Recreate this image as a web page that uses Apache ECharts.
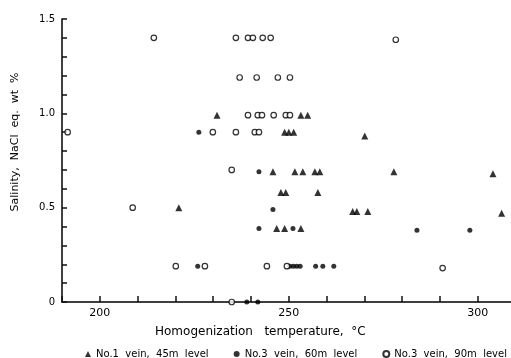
<!DOCTYPE html>
<html>
<head>
<meta charset="utf-8">
<script src="https://cdn.jsdelivr.net/npm/echarts@6/dist/echarts.min.js"></script>
<style>
  html, body { margin: 0; padding: 0; background: #fff; }
  #chart { width: 511px; height: 358px; }
</style>
</head>
<body>
<div id="chart"></div>
<script>
// Fluid inclusion data: homogenization temperature (°C) vs salinity (NaCl eq. wt %)
const vein1_45m_temp = [231.0, 253.2, 255.0, 248.9, 250.0, 251.3, 270.1,
  245.8, 251.6, 253.7, 256.9, 258.2, 277.8, 304.0,
  247.9, 249.2, 257.7,
  220.9, 266.9, 268.0, 270.9, 306.3,
  246.8, 248.9, 253.2];
const vein1_45m_salinity = [0.99, 0.99, 0.99, 0.9, 0.9, 0.9, 0.88,
  0.69, 0.69, 0.69, 0.69, 0.69, 0.69, 0.68,
  0.58, 0.58, 0.58,
  0.5, 0.48, 0.48, 0.48, 0.47,
  0.39, 0.39, 0.39];

const vein3_60m_temp = [226.2, 242.1, 245.8, 242.1, 251.1, 283.9, 297.9,
  225.9, 250.3, 251.2, 252.1, 253.0, 257.1, 259.0, 261.9,
  238.9, 241.8];
const vein3_60m_salinity = [0.9, 0.69, 0.49, 0.39, 0.39, 0.38, 0.38,
  0.19, 0.19, 0.19, 0.19, 0.19, 0.19, 0.19, 0.19,
  0, 0];

const vein3_90m_temp = [214.3, 236.0, 239.2, 240.5, 243.1, 245.2, 278.3,
  237.0, 241.5, 247.1, 250.3,
  239.2, 241.8, 242.9, 246.0, 249.2, 250.3,
  191.5, 229.9, 236.0, 241.0, 242.1,
  234.9, 208.7,
  220.1, 227.8, 244.2, 249.5, 290.7,
  234.9];
const vein3_90m_salinity = [1.4, 1.4, 1.4, 1.4, 1.4, 1.4, 1.39,
  1.19, 1.19, 1.19, 1.19,
  0.99, 0.99, 0.99, 0.99, 0.99, 0.99,
  0.9, 0.9, 0.9, 0.9, 0.9,
  0.7, 0.5,
  0.19, 0.19, 0.19, 0.19, 0.18,
  0];

// Labelled tick values (ticks themselves fall every 10 °C and every 0.1 %)
const xLabels = [200, 250, 300];
const yLabels = [0, 0.5, 1.0, 1.5];

const seriesNames = ['No.1 vein, 45m level', 'No.3 vein, 60m level', 'No.3 vein, 90m level'];

const zip = (xs, ys) => xs.map((x, i) => [x, ys[i]]);
const near = (v, list) => list.some(t => Math.abs(v - t) < 1e-6);
const ink = '#000';
const font = 'DejaVu Sans';

const chart = echarts.init(document.getElementById('chart'), null, { renderer: 'canvas' });
chart.setOption({
  animation: false,
  backgroundColor: '#fff',
  // the temperature axis runs on past the right edge of the page
  grid: { left: 62, top: 19, width: 453.6, height: 283, outerBoundsMode: 'none', containLabel: false },
  xAxis: {
    type: 'value',
    min: 190, max: 310, interval: 10,
    axisLine: { show: true, lineStyle: { color: ink, width: 1.5 } },
    axisTick: { show: true, inside: true, length: 6, lineStyle: { color: '#111', width: 1.5 } },
    axisLabel: {
      color: ink, fontFamily: font, fontSize: 11, margin: 6,
      formatter: v => (near(v, xLabels) ? String(Math.round(v)) : '')
    },
    splitLine: { show: false }
  },
  yAxis: {
    type: 'value',
    min: 0, max: 1.5, interval: 0.1,
    axisLine: { show: true, lineStyle: { color: ink, width: 1.5 } },
    axisTick: { show: true, inside: true, length: 5, lineStyle: { color: '#111', width: 1.5 } },
    axisLabel: {
      color: ink, fontFamily: font, fontSize: 10, margin: 7,
      formatter: v => (near(v, yLabels) ? (v === 0 ? '0' : v.toFixed(1)) : '')
    },
    splitLine: { show: false }
  },
  legend: {
    left: 80, top: 344, width: 440,
    itemWidth: 6, itemHeight: 6, itemGap: 25,
    textStyle: { color: ink, fontFamily: font, fontSize: 10 },
    formatter: name => name.replace(/ /g, '  '),
    data: seriesNames
  },
  graphic: [
    {
      type: 'text', left: 155, top: 326,
      style: { text: 'Homogenization   temperature,  °C', fill: ink, font: '12px "DejaVu Sans"' }
    },
    {
      type: 'text', x: 15, y: 142, rotation: Math.PI / 2,
      style: { text: 'Salinity,  NaCl  eq.  wt  %', fill: ink, font: '11px "DejaVu Sans"', align: 'center', verticalAlign: 'middle' }
    }
  ],
  series: [
    {
      name: seriesNames[0], type: 'scatter', symbol: 'triangle', symbolSize: 7,
      itemStyle: { color: ink },
      data: zip(vein1_45m_temp, vein1_45m_salinity)
    },
    {
      name: seriesNames[1], type: 'scatter', symbol: 'circle', symbolSize: 5,
      itemStyle: { color: ink },
      data: zip(vein3_60m_temp, vein3_60m_salinity)
    },
    {
      name: seriesNames[2], type: 'scatter', symbol: 'circle', symbolSize: 5.5,
      itemStyle: { color: '#fff', borderColor: ink, borderWidth: 1.2 },
      data: zip(vein3_90m_temp, vein3_90m_salinity)
    }
  ]
});
</script>
</body>
</html>
